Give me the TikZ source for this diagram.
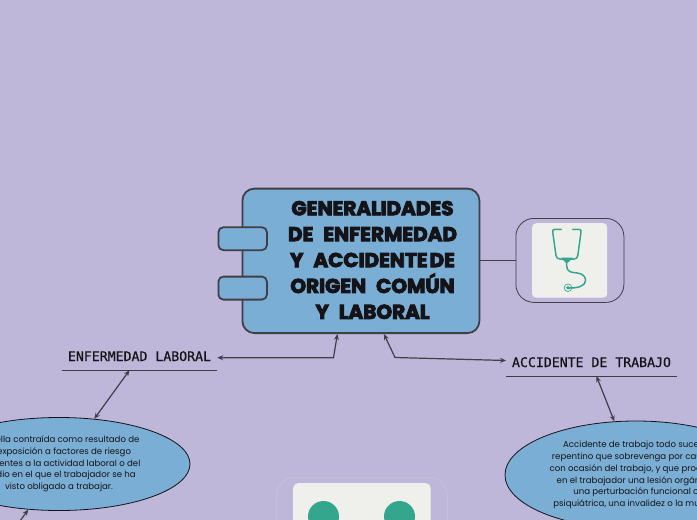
\documentclass[tikz,border=0pt]{standalone}
\usepackage{fontspec}
\usetikzlibrary{shapes.geometric,arrows.meta}
\setmainfont{Poppins}
\newfontfamily\ttlfont[BoldFeatures={FakeBold=4.5}]{Poppins}
\newfontfamily\labfont[FakeBold=0.5]{DejaVu Sans Mono}
\definecolor{bgc}{HTML}{BEB7DA}
\definecolor{boxc}{HTML}{7BAED4}
\definecolor{edgec}{HTML}{3F3F46}
\definecolor{tilec}{HTML}{EFF0EC}
\definecolor{greenc}{HTML}{35A68E}
\definecolor{inkc}{HTML}{141418}
\tikzset{
  x=1pt,y=-1pt,
  mainbox/.style={draw=edgec,fill=boxc,line width=1.8pt,rounded corners=12pt,minimum width=237pt,minimum height=144.5pt,inner sep=0pt,anchor=north west},
  tabbox/.style={draw=edgec,fill=boxc,line width=1.8pt,rounded corners=5pt,minimum width=48.5pt,minimum height=23pt,inner sep=0pt,anchor=north west},
  headlabel/.style={font=\labfont\fontsize{13.2}{15}\selectfont,text=inkc,minimum height=18pt,inner sep=0pt},
  rule/.style={draw=edgec,line width=1pt},
  blob/.style={ellipse,draw=inkc,fill=boxc,line width=.8pt,inner sep=0pt,align=center,text=inkc,font=\fontsize{8.6}{11.7}\selectfont},
  conn/.style={draw=edgec,line width=1.2pt},
  arr/.style={{Stealth[length=6pt,width=5pt]}-{Stealth[length=6pt,width=5pt]}},
  arrone/.style={-{Stealth[length=6pt,width=5pt]}},
  framebox/.style={draw=edgec,line width=.8pt,rounded corners=18pt,anchor=north west,inner sep=0pt},
  tile/.style={fill=tilec,rounded corners=4pt,anchor=north west,inner sep=0pt},
  steth/.style={draw=greenc,line width=1.5pt,line cap=round,line join=round}
}
\begin{document}
\begin{tikzpicture}
\useasboundingbox (0,0) rectangle (697,520);
\clip (0,0) rectangle (697,520);
\fill[bgc] (0,0) rectangle (697,520);

% main box and tabs
\node[mainbox] (main) at (241.5,187.7) {};
\node[tabbox] (tabA) at (217.5,226.3) {};
\node[tabbox] (tabB) at (217.5,275.7) {};
\node[font=\ttlfont\bfseries\fontsize{20}{25.9}\selectfont,text=inkc,align=center,inner sep=0pt] (title) at (372.5,260) {GENERALIDADES\\DE\hspace{.5em}ENFERMEDAD\\Y\hspace{.5em}ACCIDENTE\hspace{.1em}DE\\ORIGEN\hspace{.5em}COMÚN\\Y\hspace{.5em}LABORAL};

% stethoscope frame
\node[framebox,minimum width=108pt,minimum height=84pt] (frame) at (515.5,218) {};
\node[tile,minimum width=75pt,minimum height=74.5pt] (stile) at (532,223) {};
\draw[steth] (561.3,229.3) -- (555,229.3) .. controls (553,229.3) and (552.5,230.5) .. (552.7,232) -- (556,255.5) .. controls (556.3,258) and (558,259) .. (560,259) -- (574,259) .. controls (576,259) and (577.5,258) .. (577.8,255.5) -- (581,232) .. controls (581.2,230.5) and (580.8,229.3) .. (579,229.3) -- (572.7,229.3);
\draw[steth] (566.7,259) -- (566.7,266) .. controls (566.7,272) and (572,272.5) .. (576,272.8) .. controls (583,273.3) and (586,277) .. (585.5,281) .. controls (585,286) and (578,288.3) .. (568,288);
\fill[greenc] (561,257.5) -- (573,257.5) -- (568,262.5) -- (565.5,262.5) -- cycle;
\draw[greenc,line width=.7pt] (568,287.7) circle (3.8);
\fill[greenc] (568,287.7) circle (1.8);

% bottom picture
\node[framebox,draw=black!10!bgc!70!white,line width=1pt,minimum width=171pt,minimum height=80pt] (frameB) at (276,477) {};
\node[tile,minimum width=137.5pt,minimum height=70pt,rounded corners=5pt] (btile) at (293,483) {};
\fill[greenc] (323.5,516.5) circle (15.5);
\fill[greenc] (399.5,516.5) circle (15.5);

% labels
\node[headlabel,minimum width=155pt] (enf) at (139.5,361) {\raisebox{0pt}[0pt][0pt]{ENFERMEDAD LABORAL}};
\draw[rule] (enf.south west) -- (enf.south east);
\node[headlabel,minimum width=171pt] (acc) at (591.5,367) {\raisebox{0pt}[0pt][0pt]{ACCIDENTE DE TRABAJO}};
\draw[rule] (acc.south west) -- (acc.south east);

% ellipses
\node[blob,minimum width=262pt,minimum height=93pt] (ellL) at (59,464) {aquella contraída como resultado de\\la exposición a factores de riesgo\\inherentes a la actividad laboral o del\\medio en el que el trabajador se ha\\visto obligado a trabajar.};
\node[blob,minimum width=262pt,minimum height=108pt] (ellR) at (636,475) {Accidente de trabajo todo suceso\\repentino que sobrevenga por causa o\\con ocasión del trabajo, y que produzca\\en el trabajador una lesión orgánica,\\una perturbación funcional o\\psiquiátrica, una invalidez o la muerte.};

% connectors
\coordinate (elbL) at (333.5,357.7);
\coordinate (elbR) at (395,357.5);
\coordinate (downL) at (20,521);
\draw[conn] (main.east |- frame.west) -- (frame.west);
\draw[conn,arr] ([xshift=-23.5pt]main.south) -- (elbL) -- (enf.east |- elbL);
\draw[conn,arr] ([xshift=23pt]main.south) -- (elbR) -- (506,360.5);
\draw[conn,arr] ([xshift=-10pt]enf.south) -- (ellL.52);
\draw[conn,arr] ([xshift=5pt]acc.south) -- (ellR.112);
\draw[conn,arrone] (downL) -- (ellL.236);
\end{tikzpicture}
\end{document}
